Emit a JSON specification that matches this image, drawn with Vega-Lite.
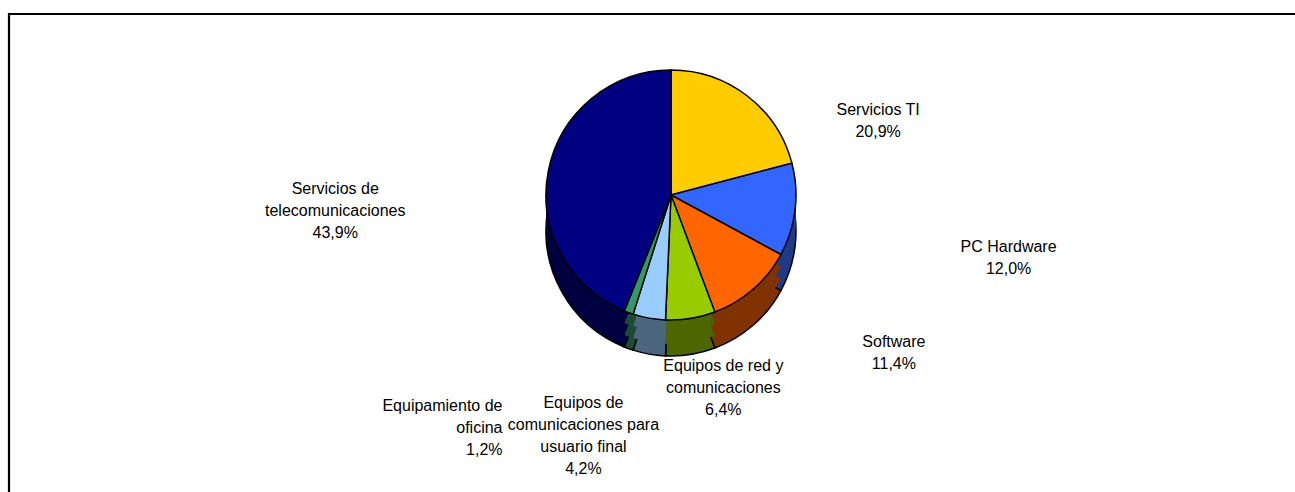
{
  "$schema": "https://vega.github.io/schema/vega-lite/v6.json",
  "width": 1300,
  "height": 490,
  "autosize": "none",
  "padding": {"left": 9, "top": 14, "right": 0, "bottom": 0},
  "background": "white",
  "view": {"stroke": "black", "strokeWidth": 2.2, "fill": "white"},
  "title": {
    "text": "Mercado TIC por segmentos en 2008 (%)",
    "font": "Liberation Sans",
    "fontSize": 29.5,
    "fontWeight": "bold",
    "color": "black",
    "anchor": "middle",
    "frame": "group",
    "dx": 0.5,
    "offset": 15,
    "baseline": "alphabetic"
  },
  "data": {
    "values": [
      {"segmento": "Servicios TI", "valor": 20.9, "orden": 1, "etiqueta": "Servicios TI\n20,9%"},
      {"segmento": "PC Hardware", "valor": 12.0, "orden": 2, "etiqueta": "PC Hardware\n12,0%"},
      {"segmento": "Software", "valor": 11.4, "orden": 3, "etiqueta": "Software\n11,4%"},
      {"segmento": "Equipos de red y comunicaciones", "valor": 6.4, "orden": 4, "etiqueta": "Equipos de red y\ncomunicaciones\n6,4%"},
      {"segmento": "Equipos de comunicaciones para usuario final", "valor": 4.2, "orden": 5, "etiqueta": "Equipos de\ncomunicaciones para\nusuario final\n4,2%"},
      {"segmento": "Equipamiento de oficina", "valor": 1.2, "orden": 6, "etiqueta": "Equipamiento de\noficina\n1,2%"},
      {"segmento": "Servicios de telecomunicaciones", "valor": 43.9, "orden": 7, "etiqueta": "Servicios de\ntelecomunicaciones\n43,9%"}
    ]
  },
  "layer": [
    {
      "mark": {"type": "arc", "radius": 125, "xOffset": 12, "yOffset": -28, "stroke": "black", "strokeWidth": 1.5},
      "encoding": {
        "theta": {"field": "valor", "type": "quantitative", "stack": true},
        "order": {"field": "orden", "type": "quantitative"},
        "color": {"field": "segmento", "type": "nominal", "legend": null,
          "scale": {"domain": ["Servicios TI", "PC Hardware", "Software", "Equipos de red y comunicaciones", "Equipos de comunicaciones para usuario final", "Equipamiento de oficina", "Servicios de telecomunicaciones"],
                    "range": ["#806600", "#1F3A86", "#803300", "#4C6600", "#4C6680", "#1A4C33", "#000040"]}}
      }
    },
    {
      "mark": {"type": "arc", "radius": 125, "xOffset": 12, "yOffset": -40},
      "encoding": {
        "theta": {"field": "valor", "type": "quantitative", "stack": true},
        "order": {"field": "orden", "type": "quantitative"},
        "color": {"field": "segmento", "type": "nominal", "legend": null,
          "scale": {"domain": ["Servicios TI", "PC Hardware", "Software", "Equipos de red y comunicaciones", "Equipos de comunicaciones para usuario final", "Equipamiento de oficina", "Servicios de telecomunicaciones"],
                    "range": ["#806600", "#1F3A86", "#803300", "#4C6600", "#4C6680", "#1A4C33", "#000040"]}}
      }
    },
    {
      "mark": {"type": "arc", "radius": 125, "xOffset": 12, "yOffset": -52},
      "encoding": {
        "theta": {"field": "valor", "type": "quantitative", "stack": true},
        "order": {"field": "orden", "type": "quantitative"},
        "color": {"field": "segmento", "type": "nominal", "legend": null,
          "scale": {"domain": ["Servicios TI", "PC Hardware", "Software", "Equipos de red y comunicaciones", "Equipos de comunicaciones para usuario final", "Equipamiento de oficina", "Servicios de telecomunicaciones"],
                    "range": ["#806600", "#1F3A86", "#803300", "#4C6600", "#4C6680", "#1A4C33", "#000040"]}}
      }
    },
    {
      "mark": {"type": "arc", "radius": 125, "xOffset": 12, "yOffset": -64, "stroke": "black", "strokeWidth": 1.5},
      "encoding": {
        "theta": {"field": "valor", "type": "quantitative", "stack": true},
        "order": {"field": "orden", "type": "quantitative"},
        "color": {"field": "segmento", "type": "nominal", "legend": null,
          "scale": {"domain": ["Servicios TI", "PC Hardware", "Software", "Equipos de red y comunicaciones", "Equipos de comunicaciones para usuario final", "Equipamiento de oficina", "Servicios de telecomunicaciones"],
                    "range": ["#FFCC00", "#3366FF", "#FF6600", "#99CC00", "#99CCFF", "#339966", "#000080"]}}
      }
    },
    {
      "mark": {
        "type": "text",
        "radius": 0,
        "xOffset": 11,
        "yOffset": -19,
        "font": "Liberation Sans",
        "fontSize": 16,
        "lineHeight": 22,
        "lineBreak": "\n",
        "color": "black",
        "baseline": "middle",
        "dx": {"expr": "(datum.valor < 5 ? 1.45 : 1) * 341 * sin(PI*(datum.valor_start+datum.valor_end)/100)"},
        "dy": {"expr": "-(datum.valor < 5 ? 1.33 : 1) * 150 * cos(PI*(datum.valor_start+datum.valor_end)/100) - (length(split(datum.etiqueta, '\\n')) - 1) * 11"},
        "align": {"expr": "datum.valor < 5 && sin(PI*(datum.valor_start+datum.valor_end)/100) < -0.25 ? 'right' : 'center'"}
      },
      "encoding": {
        "theta": {"field": "valor", "type": "quantitative", "stack": true},
        "order": {"field": "orden", "type": "quantitative"},
        "text": {"field": "etiqueta", "type": "nominal"}
      }
    }
  ],
  "resolve": {"scale": {"color": "independent"}},
  "config": {
    "font": "Liberation Sans"
  }
}
